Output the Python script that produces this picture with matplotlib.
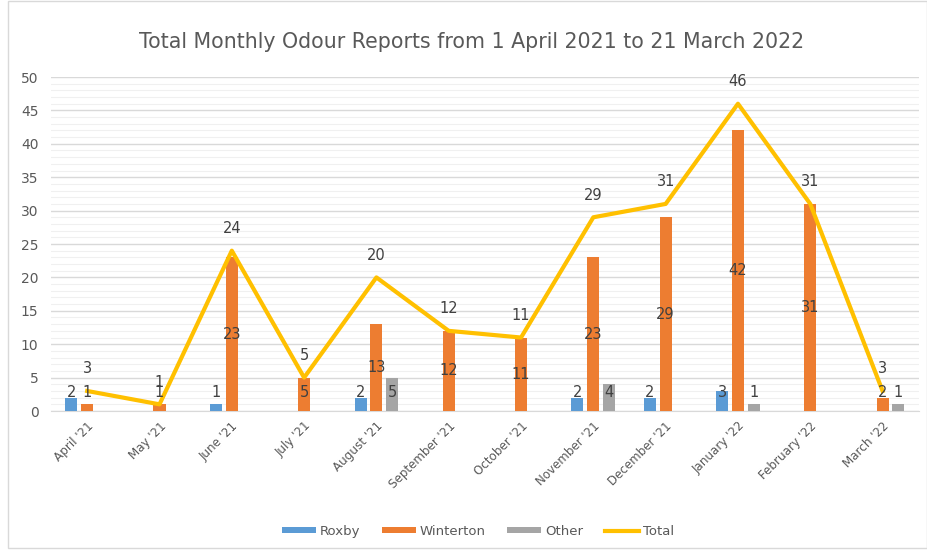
import numpy as np
import matplotlib.pyplot as plt
from matplotlib.patches import Rectangle

months = ["April '21", "May '21", "June '21", "July '21", "August '21",
          "September '21", "October '21", "November '21", "December '21",
          "January '22", "February '22", "March '22"]
roxby = [2, 0, 1, 0, 2, 0, 0, 2, 2, 3, 0, 0]
winterton = [1, 1, 23, 5, 13, 12, 11, 23, 29, 42, 31, 2]
other = [0, 0, 0, 0, 5, 0, 0, 4, 0, 1, 0, 1]
total = [3, 1, 24, 5, 20, 12, 11, 29, 31, 46, 31, 3]

c_rox = '#5B9BD5'
c_win = '#ED7D31'
c_oth = '#A5A5A5'
c_tot = '#FFC000'
txt = '#595959'
lbl = '#404040'

fig = plt.figure(figsize=(9.28, 5.52), dpi=100)
ax = fig.add_axes([0.055, 0.2554, 0.935, 0.6051])

x = np.arange(len(months))
w = 0.166
off = 0.22

handles = []
series = [(roxby, -off, c_rox, 'Roxby'),
          (winterton, 0, c_win, 'Winterton'),
          (other, off, c_oth, 'Other')]
for vals, dx, col, name in series:
    b = ax.bar(x + dx, vals, width=w, color=col, label=name, zorder=3)
    handles.append(b)
    for xi, v in zip(x, vals):
        if v > 0:
            ax.text(xi + dx, max(v / 2, 2.7), str(v), ha='center', va='center',
                    fontsize=10.5, color=lbl, zorder=5)

line, = ax.plot(x, total, color=c_tot, lw=3, label='Total', zorder=4)
handles.append(line)
for xi, v in zip(x, total):
    ax.annotate(str(v), (xi, v), xytext=(0, 16), textcoords='offset points',
                ha='center', va='center', fontsize=10.5, color=lbl, zorder=5)

ax.set_xlim(-0.5, len(months) - 0.5)
ax.set_ylim(0, 50)
ax.set_yticks(np.arange(0, 51, 5))
ax.set_yticks(np.arange(0, 51, 1), minor=True)
ax.grid(axis='y', which='major', color='#D9D9D9', lw=1, zorder=0)
ax.grid(axis='y', which='minor', color='#F0F0F0', lw=0.8, zorder=0)
ax.set_xticks(x)
ax.set_xticklabels(months, rotation=45, ha='right', rotation_mode='anchor',
                   fontsize=8.6, color=txt)
ax.tick_params(axis='y', labelsize=10, labelcolor=txt, length=0, pad=9)
ax.tick_params(axis='x', length=0, pad=6)
ax.tick_params(which='minor', length=0)
for s in ['top', 'right', 'left']:
    ax.spines[s].set_visible(False)
ax.spines['bottom'].set_color('#D9D9D9')

fig.text(0.508, 0.924, 'Total Monthly Odour Reports from 1 April 2021 to 21 March 2022',
         ha='center', va='center', fontsize=14.8, color=txt)

leg = fig.legend(handles, [h.get_label() for h in handles], loc='center',
                 bbox_to_anchor=(0.515, 0.037), ncol=4, frameon=False,
                 fontsize=9.5, handlelength=2.6, handleheight=0.35, columnspacing=1.6,
                 handletextpad=0.3)
for t in leg.get_texts():
    t.set_color(txt)

fig.patches.append(Rectangle((0.009, 0.008), 0.99, 0.99, transform=fig.transFigure,
                             fill=False, edgecolor='#D9D9D9', lw=1))

fig.savefig('out.png', dpi=100)
